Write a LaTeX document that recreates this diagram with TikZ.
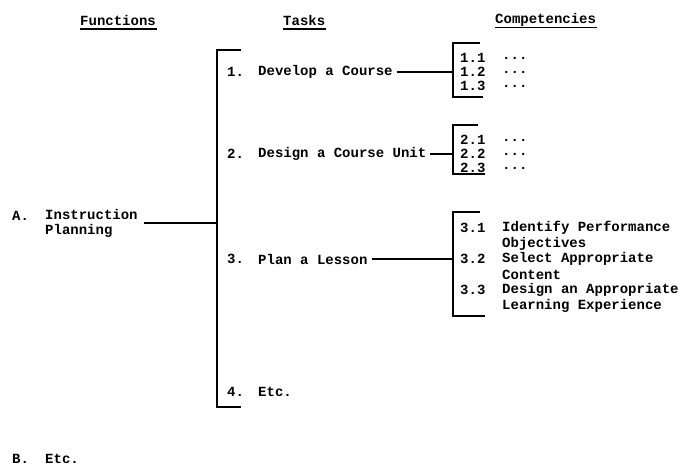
\documentclass[tikz,border=0pt]{standalone}
\usepackage{fontspec}
\setmonofont{Liberation Mono}
\usetikzlibrary{positioning, calc}
\tikzset{
  typed/.style={font=\ttfamily\bfseries\fontsize{14}{15}\selectfont, inner sep=0pt, anchor=west},
  brk/.style={line width=2pt, black},
  link/.style={line width=1.8pt, black},
  rule/.style={line width=1.6pt, black},
}
% bracket: x, top y, bottom y, top tick, bottom tick
\newcommand{\sidebracket}[5]{%
  \draw[brk] (#1+#4,#2) -- (#1,#2) -- (#1,#3) -- (#1+#5,#3);%
}

\begin{document}
\begin{tikzpicture}[x=1pt, y=-1pt]
    \useasboundingbox (0,0) rectangle (680,467);

    % Headings
    \node[typed] (fnhead) at (80,20) {Functions};
    \node[typed] (tkhead) at (283,20) {Tasks};
    \node[typed] (cphead) at (495,20) {Competencies};
    \foreach \h in {fnhead, tkhead, cphead} {
      \draw[rule] ($(\h.base west)+(0,4)$) -- ($(\h.base east)+(1,4)$);
    }

    % Functions
    \node[typed] (fa) at (12,215.5) {A.};
    \node[typed, align=left] (instr) at (45,223) {Instruction\\Planning};
    \node[typed] (fb) at (12,459) {B.};
    \node[typed] (etcb) at (45,459) {Etc.};

    % Task bracket
    \sidebracket{217}{50}{407}{24}{24}
    \coordinate (mainA) at (217,223);
    \draw[line width=2.8pt, shorten <=6pt] (instr.east) -- (mainA);

    % Tasks
    \node[typed] (n1) at (227,72) {1.};
    \node[typed] (t1) at (258,72) {Develop a Course};
    \node[typed] (n2) at (227,154) {2.};
    \node[typed] (t2) at (258,154) {Design a Course Unit};
    \node[typed] (n3) at (227,259) {3.};
    \node[typed] (t3) at (258,259) {Plan a Lesson};
    \node[typed] (n4) at (227,392) {4.};
    \node[typed] (t4) at (258,392) {Etc.};

    % Competencies 1
    \sidebracket{453}{43}{97}{27}{30}
    \coordinate (c1) at (453,72);
    \draw[link, shorten <=4pt] (t1.east) -- (c1);
    \node[typed] (c11) at (460,58) {1.1};
    \node[typed] (c12) at (460,72) {1.2};
    \node[typed] (c13) at (460,86) {1.3};
    \node[typed] (d11) at (502,58) {...};
    \node[typed] (d12) at (502,72) {...};
    \node[typed] (d13) at (502,86) {...};

    % Competencies 2
    \sidebracket{453}{125}{174}{25}{32}
    \coordinate (c2) at (453,154);
    \draw[link, shorten <=4pt] (t2.east) -- (c2);
    \node[typed] (c21) at (460,140) {2.1};
    \node[typed] (c22) at (460,154) {2.2};
    \node[typed] (c23) at (460,168) {2.3};
    \node[typed] (d21) at (502,140) {...};
    \node[typed] (d22) at (502,154) {...};
    \node[typed] (d23) at (502,168) {...};

    % Competencies 3
    \sidebracket{453}{212}{316}{27}{32}
    \coordinate (c3) at (453,259);
    \draw[link, shorten <=4pt] (t3.east) -- (c3);
    \node[typed] (c31) at (460,228) {3.1};
    \node[typed] (d31) at (502,228) {Identify Performance};
    \node[typed] (e31) at (502,243.5) {Objectives};
    \node[typed] (c32) at (460,259) {3.2};
    \node[typed] (d32) at (502,259) {Select Appropriate};
    \node[typed] (e32) at (502,274.5) {Content};
    \node[typed] (c33) at (460,290) {3.3};
    \node[typed] (d33) at (502,290) {Design an Appropriate};
    \node[typed] (e33) at (502,305.5) {Learning Experience};
\end{tikzpicture}
\end{document}
